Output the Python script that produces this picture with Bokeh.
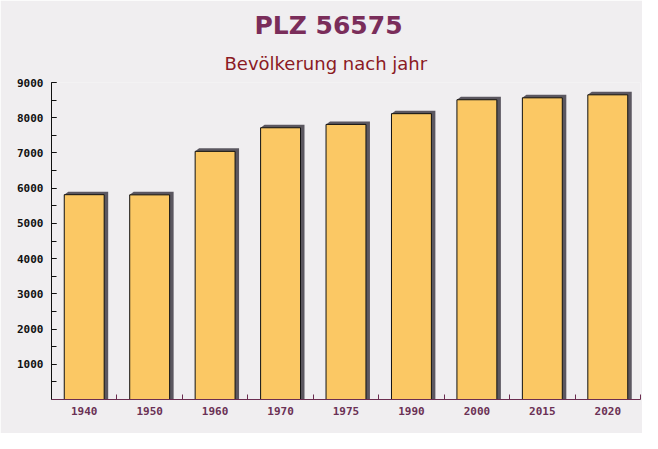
from bokeh.plotting import figure
from bokeh.models import Title, FixedTicker, Range1d, ColumnDataSource
from bokeh.embed import file_html
from bokeh.resources import INLINE

# ---- data ----
years = ["1940", "1950", "1960", "1970", "1975", "1990", "2000", "2015", "2020"]
population = [5815, 5810, 7045, 7715, 7810, 8115, 8510, 8565, 8650]
y_ticks = [1000, 2000, 3000, 4000, 5000, 6000, 7000, 8000, 9000]
title_text = "PLZ 56575"
subtitle_text = "Bevölkerung nach jahr"

# ---- layout ----
W, H = 642, 433
ML, MR, MT, MB = 51, 2, 82, 34
BG = "#f0eef0"
p = figure(width=W, height=H, output_backend="svg", toolbar_location=None,
           x_range=Range1d(-0.5, len(years) - 0.5), y_range=Range1d(0, 9000),
           min_border_left=ML, min_border_right=MR, min_border_top=MT,
           min_border_bottom=MB)
p.background_fill_color = BG
p.border_fill_color = BG
p.outline_line_color = None
p.xgrid.visible = False
p.ygrid.visible = False

xs = list(range(len(years)))
bar_w = 0.61

# pixel scales for the 3D shadow
frame_w = W - ML - MR
frame_h = H - MT - MB
px_x = len(years) / frame_w
px_y = 9000 / frame_h
dx = 4 * px_x
dy = 3 * px_y

sh_xs, sh_ys = [], []
for x, v in zip(xs, population):
    l, r = x - bar_w / 2, x + bar_w / 2
    sh_xs.append([l, l + dx, r + dx, r + dx, r])
    sh_ys.append([v, v + dy, v + dy, 0, 0])
p.patches(sh_xs, sh_ys, fill_color="#5b5760", line_color=None)

src = ColumnDataSource(dict(x=xs, top=population))
p.vbar(x="x", top="top", width=bar_w, bottom=0, source=src,
       fill_color="#fbc864", fill_alpha=1.0, line_color="#111111", line_width=1)

# ---- axes ----
yax = p.yaxis[0]
yax.ticker = FixedTicker(ticks=y_ticks, minor_ticks=list(range(500, 9001, 500)))
yax.axis_line_color = "#111111"
yax.major_tick_in = 5
yax.major_tick_out = 0
yax.minor_tick_in = 5
yax.minor_tick_out = 0
yax.major_tick_line_color = "#111111"
yax.minor_tick_line_color = "#111111"
yax.major_label_text_font = "DejaVu Sans Mono"
yax.major_label_text_font_style = "bold"
yax.major_label_text_font_size = "11px"
yax.major_label_text_color = "#111111"
yax.major_label_standoff = 8

xax = p.xaxis[0]
xax.ticker = FixedTicker(ticks=xs, minor_ticks=[i + 0.5 for i in range(-1, len(years))])
xax.major_label_overrides = {i: y for i, y in enumerate(years)}
xax.axis_line_color = "#6b2d50"
xax.major_tick_in = 0
xax.major_tick_out = 0
xax.minor_tick_in = 5
xax.minor_tick_out = 0
xax.minor_tick_line_color = "#6b2d50"
xax.major_label_text_font = "DejaVu Sans Mono"
xax.major_label_text_font_style = "bold"
xax.major_label_text_font_size = "11px"
xax.major_label_text_color = "#6b3155"
xax.major_label_standoff = 7

# ---- titles ----
# outer (main) title
p.title.text = title_text
p.title.align = "left"
p.title.text_font = "DejaVu Sans"
p.title.text_font_style = "bold"
p.title.text_font_size = "25px"
p.title.text_color = "#7a2d5a"
p.title.standoff = 3
p.title.offset = 203

# inner subtitle, next to the plot area
sub_title = Title(text=subtitle_text, align="left", text_font="DejaVu Sans",
                  text_font_style="normal", text_font_size="18px",
                  text_color="#8b1a24", standoff=18, offset=173)
p.add_layout(sub_title, "above")

open("out.html", "w").write(file_html(p, INLINE))
